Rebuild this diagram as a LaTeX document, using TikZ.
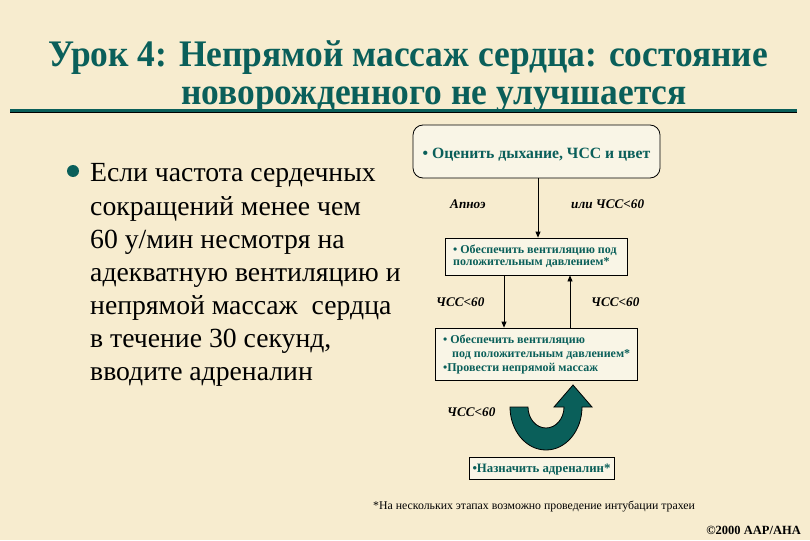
\documentclass[tikz,border=0pt]{standalone}
\usepackage{fontspec}
\setmainfont{Liberation Serif}
\newfontfamily\titlefont[FakeStretch=0.945]{Liberation Serif}
\usetikzlibrary{arrows.meta}
\definecolor{bg}{RGB}{247,236,207}
\definecolor{tealc}{RGB}{10,95,90}
\definecolor{boxfill}{RGB}{249,245,230}
\begin{document}
\begin{tikzpicture}[x=1pt,y=-1pt,
  titletxt/.style={text=tealc, font=\titlefont\bfseries\fontsize{37.5}{42}\selectfont, inner sep=0pt},
  bodytxt/.style={font=\fontsize{27.7}{33}\selectfont, inner sep=0pt, anchor=base west},
  fbox/.style={draw=black, line width=0.8pt, fill=boxfill, inner sep=0pt},
  ftxt/.style={text=tealc, font=\bfseries\fontsize{12}{14}\selectfont, align=left},
  lbl/.style={font=\bfseries\itshape\fontsize{13.2}{15}\selectfont, inner sep=0pt, anchor=base west},
  arr/.style={line width=0.8pt, -{Triangle[length=6pt,width=5pt]}}
]
\fill[bg] (0,0) rectangle (810,540);
\useasboundingbox (0,0) rectangle (810,540);

% title
\node[titletxt, anchor=base] (t1) at (408,67) {Урок 4: Непрямой массаж сердца: состояние};
\node[titletxt, anchor=base] (t2) at (434,105) {новорожденного не улучшается};
\draw[black, line width=1.8pt] (10,112.6) -- (797,112.6);
\draw[tealc, line width=2.4pt] (10,110.6) -- (797,110.6);

% bullet text
\fill[tealc] (73,171) circle (6);
\node[bodytxt] (b1) at (90,182) {Если частота сердечных};
\node[bodytxt] (b2) at (90,215) {сокращений менее чем};
\node[bodytxt] (b3) at (90,248) {60 у/мин несмотря на};
\node[bodytxt] (b4) at (90,281) {адекватную вентиляцию и};
\node[bodytxt] (b5) at (90,314) {непрямой массаж\ \ сердца};
\node[bodytxt] (b6) at (90,347) {в течение 30 секунд,};
\node[bodytxt] (b7) at (90,380) {вводите адреналин};

% flowchart boxes
\node[fbox, rounded corners=10pt, minimum width=247pt, minimum height=53pt] (box1) at (536.5,151.5) {};
\node[ftxt, inner sep=0pt, font=\bfseries\fontsize{15.7}{17}\selectfont, anchor=base] (tx1) at (536.5,158) {• Оценить дыхание, ЧСС и цвет};

\node[fbox, minimum width=182pt, minimum height=37pt] (box2) at (536,256.5) {};
\node[ftxt, anchor=north west, inner sep=0pt, font=\bfseries\fontsize{12}{11.5}\selectfont] (tx2) at (453,245) {• Обеспечить вентиляцию под\\положительным давлением*};

\node[fbox, minimum width=202pt, minimum height=52pt] (box3) at (536,354) {};
\node[ftxt, anchor=north west, inner sep=0pt, font=\bfseries\fontsize{12}{14}\selectfont] (tx3) at (443,335) {• Обеспечить вентиляцию\\\hspace*{9pt}под положительным давлением*\\•Провести непрямой массаж};

\node[fbox, minimum width=145pt, minimum height=22pt] (box4) at (541.5,468.5) {};
\node[ftxt, anchor=base, inner sep=0pt, font=\bfseries\fontsize{12.8}{14}\selectfont] (tx4) at (541.5,472.5) {•Назначить адреналин*};

% connectors
\draw[arr] (box1.south -| 538,0) -- (box2.north -| 538,0);
\coordinate (xa) at (504,300);
\coordinate (xb) at (570,300);
\draw[arr] (box2.south -| xa) -- (box3.north -| xa);
\draw[arr] (box3.north -| xb) -- (box2.south -| xb);

% labels
\node[lbl] (l1) at (450,208) {Апноэ};
\node[lbl] (l2) at (571,208) {или ЧСС<60};
\node[lbl] (l3) at (436,306) {ЧСС<60};
\node[lbl] (l4) at (591,306) {ЧСС<60};
\node[lbl] (l5) at (447,416) {ЧСС<60};

% U arrow
\filldraw[fill=tealc, draw=black, line width=0.8pt]
  (510,407) arc[start angle=180, end angle=0, x radius=36, y radius=43]
  -- (582,407) -- (592,407) -- (573,385) -- (554,407) -- (564,407)
  arc[start angle=0, end angle=180, x radius=18, y radius=21] -- cycle;

% footnote
\node[font=\fontsize{11.8}{13}\selectfont, inner sep=0pt, anchor=base west] (fn) at (373,509) {*На нескольких этапах возможно проведение интубации трахеи};
\node[font=\bfseries\fontsize{12.5}{14}\selectfont, inner sep=0pt, anchor=base east] (cp) at (801,534) {©2000 AAP/AHA};
\end{tikzpicture}
\end{document}
